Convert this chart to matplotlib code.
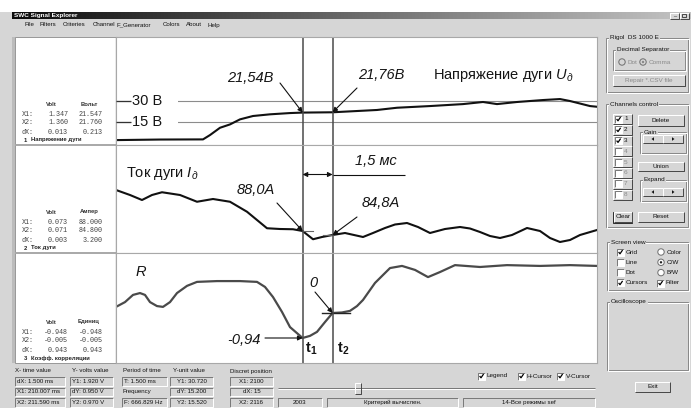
import numpy as np
import matplotlib.pyplot as plt
from matplotlib.colors import LinearSegmentedColormap
from matplotlib.patches import Rectangle, Circle, Polygon
from matplotlib.transforms import blended_transform_factory

W, H = 691, 408
BG = '#d6d6d6'
SANS = 'Liberation Sans'
MONO = 'Liberation Mono'
PX = 0.72  # one pixel in points

plt.rcParams['mathtext.fontset'] = 'custom'
plt.rcParams['mathtext.it'] = 'Liberation Sans:italic'
plt.rcParams['mathtext.rm'] = 'Liberation Sans'
plt.rcParams['mathtext.bf'] = 'Liberation Sans:bold'

# time cursors, ms
t1, t2 = 210.0, 211.5
t_lim = (200.67, 224.72)

# channel 1: arc voltage, V
t_u = [200.67, 202.87, 205.02, 205.37, 205.87, 206.37, 206.87, 207.52, 208.37,
       209.37, 210.0, 211.5, 213.72, 214.72, 216.37, 218.02, 219.02, 219.72,
       220.72, 222.02, 222.87, 223.37, 224.37, 224.72]
u_arc = [1.9, 2.3, 2.4, 5.5, 10.7, 13.1, 16.7, 19.1, 20.3,
         21.2, 21.54, 21.76, 23.4, 25.0, 26.2, 27.6, 29.1, 27.6,
         29.1, 30.5, 31.2, 29.8, 26.2, 25.7]
u_grid = [30, 15]
u_grid_lbl = ['30 В', '15 В']

# channel 2: arc current, A
t_i = [200.67, 201.37, 201.97, 202.47, 202.97, 203.87, 204.72, 205.52, 206.37,
       207.22, 208.22, 208.87, 209.52, 210.0, 210.52, 210.97, 211.5, 212.12,
       212.57, 213.02, 213.52, 214.12, 214.62, 215.22, 215.77, 216.37, 217.12,
       217.87, 218.37, 218.87, 219.37, 219.87, 220.47, 221.22, 221.87, 222.37,
       222.87, 223.37, 223.87, 224.72]
i_arc = [120.8, 116.8, 112.8, 116.8, 119.0, 116.8, 111.4, 113.6, 111.4,
         103.4, 90.2, 89.6, 89.4, 88.0, 81.4, 83.2, 84.8, 86.4,
         84.8, 83.2, 86.4, 90.4, 93.2, 94.4, 91.2, 86.4, 89.6,
         91.2, 90.0, 87.2, 84.0, 82.4, 84.8, 90.4, 88.0, 82.4,
         79.2, 80.8, 84.8, 88.8]

# channel 3: correlation coefficient
t_r = [200.67, 201.12, 201.52, 201.87, 202.12, 202.37, 202.72, 203.02, 203.37,
       203.72, 204.22, 204.72, 205.72, 206.87, 207.72, 208.12, 208.52, 208.97,
       209.37, 210.0, 210.37, 210.72, 211.12, 211.5, 211.97, 212.37, 212.72,
       213.02, 213.62, 214.37, 214.97, 215.62, 216.27, 216.87, 217.62, 218.87,
       220.22, 221.87, 223.37, 224.72]
r_corr = [0.23, 0.41, 0.68, 0.75, 0.68, 0.41, 0.26, 0.23, 0.41,
          0.75, 1.02, 1.17, 1.20, 1.20, 1.17, 0.98, 0.60, 0.04,
          -0.53, -0.94, -0.86, -0.71, -0.34, 0.0, 0.02, 0.08, 0.26,
          0.49, 1.13, 1.69, 1.77, 1.62, 1.35, 1.54, 1.80, 1.73,
          1.80, 1.77, 1.80, 1.77]

# readouts in the legend column
leg_names = ['Напряжение дуги', 'Ток дуги', 'Коэфф. корреляции']
leg_units = ['Вольт', 'Ампер', 'Единиц']
leg_x1 = [(1.347, 21.547), (0.073, 88.000), (-0.948, -0.948)]
leg_x2 = [(1.360, 21.760), (0.071, 84.800), (-0.005, -0.005)]
leg_dx = [(0.013, 0.213), (0.003, 3.200), (0.943, 0.943)]

menu_items = ['File', 'Filters', 'Criteries', 'Channel', 'F_Generator',
              'Colors', 'About', 'Help']
status_heads = ['X- time value', 'Y- volts value', 'Period of time',
                'Y-unit value', 'Discret position']
status_col1 = ['dX: 1.500 ms', 'X1: 210.007 ms', 'X2: 211.590 ms']
status_col2 = ['Y1: 1.920 V', 'dY: 0.950 V', 'Y2: 0.970 V']
status_col3 = ['T: 1.500 ms', 'Frequency', 'F: 666.829 Hz']
status_col4 = ['Y1: 30.720', 'dY: 15.200', 'Y2: 15.520']
status_col5 = ['X1: 2100', 'dX: 15', 'X2: 2116']
status_bar = ['2003', 'Критерий вычислен.', '14-Все режимы sef']

fig = plt.figure(figsize=(W / 100, H / 100), dpi=100)
fig.patch.set_facecolor('white')


def frac(x0, y0, x1, y1):
    return [x0 / W, 1 - y1 / H, (x1 - x0) / W, (y1 - y0) / H]


gui = fig.add_axes([0, 0, 1, 1], zorder=0)
gui.set_xlim(0, W)
gui.set_ylim(H, 0)
gui.axis('off')


def line(ax, xs, ys, c, lw=PX, z=2):
    ax.plot(xs, ys, color=c, lw=lw, solid_capstyle='butt', zorder=z)


def bevel(ax, x0, y0, x1, y1, raised=True, face=BG):
    ax.add_patch(Rectangle((x0, y0), x1 - x0, y1 - y0, fc=face, ec='none'))
    tl, br = ('white', '#4a4a4a') if raised else ('#7a7a7a', 'white')
    line(ax, [x0, x0, x1], [y1, y0, y0], tl)
    line(ax, [x0, x1, x1], [y1, y1, y0], br)


def label(ax, x, y, s, size=4.6, ha='left', color='#111', **kw):
    ax.text(x, y, s, fontsize=size, ha=ha, va='center', color=color,
            family=SANS, **kw)


def button(ax, x0, y0, x1, y1, s, enabled=True):
    bevel(ax, x0, y0, x1, y1, True)
    label(ax, (x0 + x1) / 2, (y0 + y1) / 2, s, ha='center',
          color='#111' if enabled else '#8a8a8a')


def textbox(ax, x0, y0, x1, y1, s, ha='left'):
    bevel(ax, x0, y0, x1, y1, False)
    xt = x0 + 2 if ha == 'left' else (x0 + x1) / 2
    label(ax, xt, (y0 + y1) / 2, s, size=4.4, ha=ha)


def group(ax, x0, y0, x1, y1, s):
    ax.add_patch(Rectangle((x0, y0), x1 - x0, y1 - y0, fc='none',
                           ec='#8a8a8a', lw=PX))
    ax.add_patch(Rectangle((x0 + 1, y0 + 1), x1 - x0, y1 - y0, fc='none',
                           ec='white', lw=PX))
    label(ax, x0 + 4, y0, s, bbox=dict(fc=BG, ec='none', pad=0.6))


def checkbox(ax, x, y, checked, s=None, enabled=True):
    bevel(ax, x, y - 3.5, x + 7, y + 3.5, False, face='white')
    if checked:
        line(ax, [x + 1.6, x + 3, x + 5.6], [y, y + 1.8, y - 2], 'black', lw=0.9)
    if s:
        label(ax, x + 9, y, s, color='#111' if enabled else '#8a8a8a')


def radio(ax, x, y, checked, s, enabled=True):
    ax.add_patch(Circle((x, y), 3.2, fc='white' if enabled else BG,
                        ec='#707070', lw=PX))
    if checked:
        ax.add_patch(Circle((x, y), 1.2, fc='#222' if enabled else '#888',
                            ec='none'))
    label(ax, x + 6, y, s, color='#111' if enabled else '#8a8a8a')


# window frame, title bar and menu
gui.add_patch(Rectangle((0, 12), W, H - 12, fc=BG, ec='none'))
gui.add_patch(Rectangle((12, 37), 3, 326, fc='#bcbcbc', ec='none'))
title_cmap = LinearSegmentedColormap.from_list('tb', ['#0c0c0c', '#6a6a6a', '#c4c4c4'])
gui.imshow(np.linspace(0, 1, 256)[None, :], cmap=title_cmap, aspect='auto',
           extent=(12, W, 19, 12), zorder=1)
gui.text(14, 15.5, 'SWC Signal Explorer', fontsize=4.6, weight='bold',
         color='white', va='center', family=SANS, zorder=3)
for bx in (670, 680):
    bevel(gui, bx, 12.5, bx + 9, 18.5, True)
label(gui, 674.5, 15, '_', size=4, ha='center')
gui.add_patch(Rectangle((682.5, 13.8), 4, 3.5, fc='none', ec='#111', lw=0.5))
for x, s in zip([25, 40, 63, 93, 117, 163, 186, 208], menu_items):
    label(gui, x, 25, s, size=4.4)

# white canvas of the legend column and the plot area
gui.add_patch(Rectangle((15, 37), 582, 326, fc='white', ec='#9a9a9a', lw=PX))
for yb in (145, 253):
    line(gui, [15, 597], [yb, yb], '#a8a8a8', lw=1.4)
line(gui, [116, 116], [37, 363], '#a8a8a8', lw=1.0)

# legend readouts
for k, yb in enumerate([145, 253, 363]):
    gui.text(51, yb - 41, 'Volt', fontsize=4.2, weight='bold', ha='center',
             va='center', family=SANS, color='#333')
    gui.text(89, yb - 41, leg_units[k], fontsize=4.2, weight='bold',
             ha='center', va='center', family=SANS, color='#333')
    for j, (tag, vals) in enumerate(zip(['X1:', 'X2:', 'dX:'],
                                        [leg_x1[k], leg_x2[k], leg_dx[k]])):
        yy = yb - 31 + 9 * j
        gui.text(22, yy, tag, fontsize=4.9, family=MONO, va='center', color='#444')
        gui.text(68, yy, '%.3f' % vals[0], fontsize=4.9, family=MONO,
                 va='center', ha='right', color='#444')
        gui.text(103, yy, '%.3f' % vals[1], fontsize=4.9, family=MONO,
                 va='center', ha='right', color='#444')
    gui.text(24, yb - 5, '%d' % (k + 1), fontsize=4.2, weight='bold',
             va='center', family=SANS, color='#222')
    gui.text(31, yb - 5, leg_names[k], fontsize=4.2, weight='bold',
             va='center', family=SANS, color='#222')

# right control column
group(gui, 606, 38, 688, 92, 'Rigol  DS 1000 E')
group(gui, 613, 50, 685, 70, 'Decimal Separator')
radio(gui, 622, 62, False, 'Dot', enabled=False)
radio(gui, 643, 62, True, 'Comma', enabled=False)
button(gui, 613, 75, 685, 86, 'Repair *.CSV file', enabled=False)

group(gui, 606, 104, 688, 227, 'Channels control')
for n in range(8):
    yc = 119 + n * 10.8
    bevel(gui, 613, yc - 5, 632, yc + 5, True)
    checkbox(gui, 615, yc, n < 3, '%d' % (n + 1), enabled=n < 3)
button(gui, 638, 115, 684, 126, 'Delete')
group(gui, 640, 132, 686, 153, 'Gain')
group(gui, 640, 180, 686, 201, 'Expand')
for ya in (135, 188):
    button(gui, 643, ya, 663, ya + 8, '')
    button(gui, 663, ya, 683, ya + 8, '')
    gui.add_patch(Polygon([[651.5, ya + 4], [654, ya + 2.2], [654, ya + 5.8]], fc='#111'))
    gui.add_patch(Polygon([[674.5, ya + 4], [672, ya + 2.2], [672, ya + 5.8]], fc='#111'))
button(gui, 638, 162, 684, 171, 'Union')
button(gui, 614, 212, 632, 222, 'Clear')
gui.add_patch(Rectangle((613.5, 211.5), 19, 11, fc='none', ec='#111', lw=0.6))
button(gui, 638, 212, 684, 222, 'Reset')

group(gui, 607, 242, 688, 290, 'Screen view')
for j, (s, on) in enumerate(zip(['Grid', 'Line', 'Dot', 'Cursors'],
                                [True, False, False, True])):
    checkbox(gui, 617, 252 + 10.3 * j, on, s)
for j, (s, on) in enumerate(zip(['Color', 'C/W', 'B/W'], [False, True, False])):
    radio(gui, 661, 252 + 10.3 * j, on, s)
checkbox(gui, 657, 283, True, 'Filter')
group(gui, 607, 302, 688, 370, 'Oscilloscope')
button(gui, 635, 382, 670, 392, 'Exit')

# status area under the plots
for x, s in zip([15, 72, 123, 173, 230], status_heads):
    label(gui, x, 371, s, size=4.4)
for j in range(3):
    y0 = 377 + 10.5 * j
    textbox(gui, 15, y0, 65, y0 + 8.5, status_col1[j])
    textbox(gui, 70, y0, 113, y0 + 8.5, status_col2[j])
    if j == 1:
        label(gui, 123, y0 + 4.2, status_col3[j], size=4.4)
    else:
        textbox(gui, 122, y0, 167, y0 + 8.5, status_col3[j])
    textbox(gui, 170, y0, 213, y0 + 8.5, status_col4[j], ha='center')
    textbox(gui, 230, y0, 273, y0 + 8.5, status_col5[j], ha='center')
y0 = 398
for (x0, x1), s in zip([(278, 322), (327, 458), (463, 595)], status_bar):
    textbox(gui, x0, y0, x1, y0 + 8.5, s, ha='center')
line(gui, [278, 595], [387.5, 387.5], '#7a7a7a')
line(gui, [278, 595], [388.5, 388.5], 'white')
bevel(gui, 355, 382.5, 361, 394, True)
for x, s in zip([478, 518, 557], ['Legend', 'H-Cursor', 'V-Cursor']):
    checkbox(gui, x, 376, True, s)

# three signal panels
panels = [(37, 145, (-1.6, 75.5)), (145, 253, (70.4, 156.8)), (253, 363, (-1.88, 2.256))]
axes = []
for ytop, ybot, ylim in panels:
    ax = fig.add_axes(frac(116, ytop, 597, ybot), zorder=1)
    ax.set_xlim(*t_lim)
    ax.set_ylim(*ylim)
    ax.set_xticks([])
    ax.set_yticks([])
    for sp in ax.spines.values():
        sp.set_color('#a8a8a8')
        sp.set_linewidth(0.8)
    axes.append(ax)
ax1, ax2, ax3 = axes

for v in u_grid:
    ax1.axhline(v, color='#8c8c8c', lw=0.8)
ax1.plot(t_u, u_arc, color='#111', lw=1.5, solid_joinstyle='round')
ax2.plot(t_i, i_arc, color='#111', lw=1.5, solid_joinstyle='round')
ax3.plot(t_r, r_corr, color='#4a4a4a', lw=1.6, solid_joinstyle='round')

# horizontal cursor marks at the cursor crossings
ax2.plot([t1, t1 + 0.5], [i_arc[t_i.index(t1)]] * 2, color='#666', lw=0.8)
ax2.plot([t2 - 0.5, t2], [i_arc[t_i.index(t2)]] * 2, color='#666', lw=0.8)
ax3.plot([t2 - 0.55, t2 + 0.85], [r_corr[t_r.index(t2)]] * 2, color='#222', lw=1.0)

for ax in axes:
    for tc in (t1, t2):
        ax.axvline(tc, color='#4a4a4a', lw=1.1)

# annotations on a transparent overlay in pixel units
top = fig.add_axes([0, 0, 1, 1], zorder=2)
top.set_xlim(0, W)
top.set_ylim(H, 0)
top.axis('off')
top.patch.set_visible(False)

arrow = dict(arrowstyle='-|>', color='#111', lw=0.8, mutation_scale=7,
             shrinkA=0, shrinkB=0)
big = dict(fontsize=10.5, va='center', family=SANS, color='#151515')


def pointer(ax, tx, ty, tail):
    top.annotate('', xy=(tx, ty), xycoords=ax.transData,
                 xytext=tail, textcoords='data', arrowprops=arrow)


# grid labels breaking the grid lines
for v, s in zip(u_grid, u_grid_lbl):
    yv = top.transData.inverted().transform(ax1.transData.transform((t1, v)))[1]
    top.add_patch(Rectangle((131, yv - 7), 47, 14, fc='white', ec='none'))
    line(top, [116.5, 131], [yv, yv], '#333', lw=0.9)
    top.text(132, yv, s, **big)

top.text(227, 78, '21,54В', style='italic', **big)
pointer(ax1, t1, u_arc[t_u.index(t1)], (280, 83))
top.text(358, 75, '21,76В', style='italic', **big)
pointer(ax1, t2, u_arc[t_u.index(t2)], (357, 88))
top.text(433, 75, 'Напряжение дуги $\\mathit{U}_{\\mathit{д}}$', **big)

top.text(126, 173, 'Ток дуги $\\mathit{I}_{\\mathit{д}}$', **big)
top.text(237, 190, '88,0А', style='italic', **big)
pointer(ax2, t1, i_arc[t_i.index(t1)], (277, 203))
top.text(362, 203, '84,8А', style='italic', **big)
pointer(ax2, t2, i_arc[t_i.index(t2)], (357, 217))
span = blended_transform_factory(ax2.transData, top.transData)
top.annotate('', xy=(t1, 174.5), xycoords=span, xytext=(t2, 174.5),
             textcoords=span, arrowprops=dict(arrowstyle='<|-|>', color='#111',
                                               lw=0.8, mutation_scale=7,
                                               shrinkA=0, shrinkB=0))
x_t2 = top.transData.inverted().transform(ax2.transData.transform((t2, 0)))[0]
line(top, [x_t2, 405], [174.5, 174.5], '#111', lw=0.8)
top.text(355, 161, '1,5 мс', style='italic', **big)

top.text(136, 272, 'R', style='italic', **big)
top.text(309, 283, '0', style='italic', **big)
pointer(ax3, t2, r_corr[t_r.index(t2)], (315, 292))
top.text(227, 340, '-0,94', style='italic', **big)
pointer(ax3, t1, r_corr[t_r.index(t1)], (265, 338))
top.text(305, 349, '$\\mathbf{t}_{\\mathbf{1}}$', **big)
top.text(337, 349, '$\\mathbf{t}_{\\mathbf{2}}$', **big)

fig.savefig('out.png', dpi=100)
